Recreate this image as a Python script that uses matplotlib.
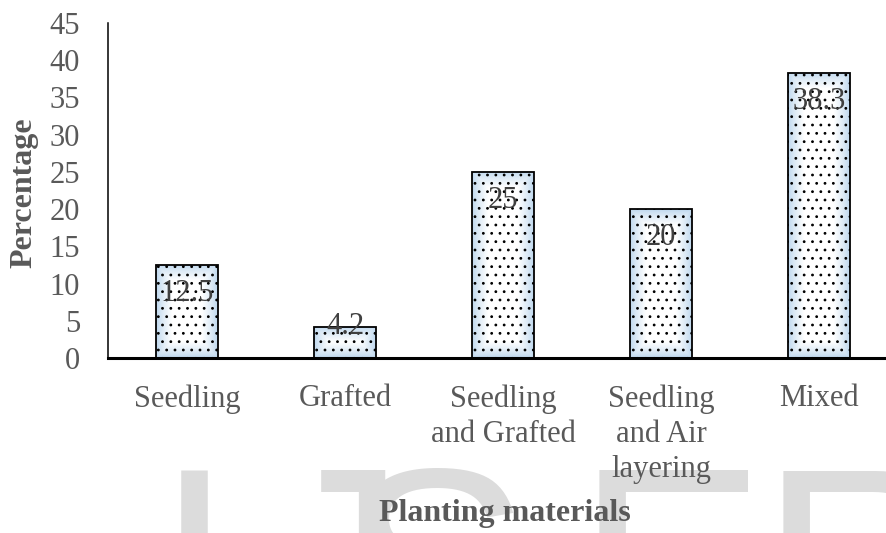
import numpy as np
import matplotlib
matplotlib.use("Agg")
import matplotlib.pyplot as plt
from matplotlib.colors import to_rgb

# planting material used by respondents (%)
categories = ["Seedling", "Grafted", "Seedling\nand Grafted",
              "Seedling\nand Air\nlayering", "Mixed"]
percentages = [12.5, 4.2, 25, 20, 38.3]
y_ticks = [0, 5, 10, 15, 20, 25, 30, 35, 40, 45]

TEXT_GRAY = "#595959"
EDGE_BLUE = to_rgb("#bdd7ee")
SERIF = ["Liberation Serif", "DejaVu Serif"]

plt.rcParams["font.family"] = SERIF
plt.rcParams["hatch.linewidth"] = 0.8

fig = plt.figure(figsize=(8.87, 5.33), dpi=100)

# faint watermark letters along the bottom edge
for letter, xpx in zip("IJSER", [155, 264, 340, 576, 760]):
    fig.text(xpx / 887, 1 - 460 / 533, letter, fontsize=205,
             family="Liberation Sans", color="#dcdcdc",
             ha="left", va="top", zorder=-5)

ax = fig.add_axes([108 / 887, 175 / 533, 790 / 887, 335 / 533])
ax.patch.set_alpha(0)
ax.set_xlim(-0.5, len(categories) - 0.5)
ax.set_ylim(0, 45)

x = np.arange(len(categories))
bar_w = 0.39
bars = ax.bar(x, percentages, width=bar_w, facecolor="none",
              edgecolor="black", linewidth=1.3, hatch="..", zorder=3)

# white-centred gradient inside each bar, blue towards the edges
px_per_x = ax.transData.transform((1, 0))[0] - ax.transData.transform((0, 0))[0]
px_per_y = ax.transData.transform((0, 1))[1] - ax.transData.transform((0, 0))[1]
for rect in bars:
    w_px = rect.get_width() * px_per_x
    h_px = rect.get_height() * px_per_y
    nx, ny = int(w_px) + 1, max(int(h_px), 2) + 1
    gx = np.linspace(0, w_px, nx)
    gy = np.linspace(0, h_px, ny)
    dx = np.minimum(gx, w_px - gx)[None, :]
    dy = np.minimum(gy, h_px - gy)[:, None]
    t = np.clip(np.minimum(dx, dy) / 16.0, 0, 1) ** 0.8
    img = np.empty((ny, nx, 3))
    for c in range(3):
        img[..., c] = EDGE_BLUE[c] + (1 - EDGE_BLUE[c]) * t
    x0, y0 = rect.get_x(), rect.get_y()
    im = ax.imshow(img, extent=(x0, x0 + rect.get_width(), y0, y0 + rect.get_height()),
                   origin="lower", aspect="auto", interpolation="bilinear", zorder=2)
    im.set_clip_path(rect)

ax.set_aspect("auto")
ax.set_xlim(-0.5, len(categories) - 0.5)
ax.set_ylim(0, 45)

# value labels just inside the top of each bar
for xi, v in zip(x, percentages):
    ly = v - 3.8 if v > 8 else v
    ax.text(xi, ly, f"{v:g}", ha="center", va="center", fontsize=22,
            color="#404040", zorder=4)

ax.set_yticks(y_ticks)
ax.set_xticks(x)
ax.set_xticklabels(categories, linespacing=1.28)
ax.tick_params(axis="y", length=0, pad=20, labelsize=22, labelcolor=TEXT_GRAY)
ax.tick_params(axis="x", length=0, pad=19, labelsize=22, labelcolor=TEXT_GRAY)

for side in ("top", "right"):
    ax.spines[side].set_visible(False)
ax.spines["bottom"].set_linewidth(2.2)
ax.spines["left"].set_linewidth(1.1)

fig.text(24 / 887, 1 - 193 / 533, "Percentage", rotation=90, fontsize=23,
         fontweight="bold", color=TEXT_GRAY, ha="center", va="center")
fig.text(505 / 887, 1 - 514 / 533, "Planting materials", fontsize=23,
         fontweight="bold", color=TEXT_GRAY, ha="center", va="center")

fig.savefig("out.png", dpi=100)
